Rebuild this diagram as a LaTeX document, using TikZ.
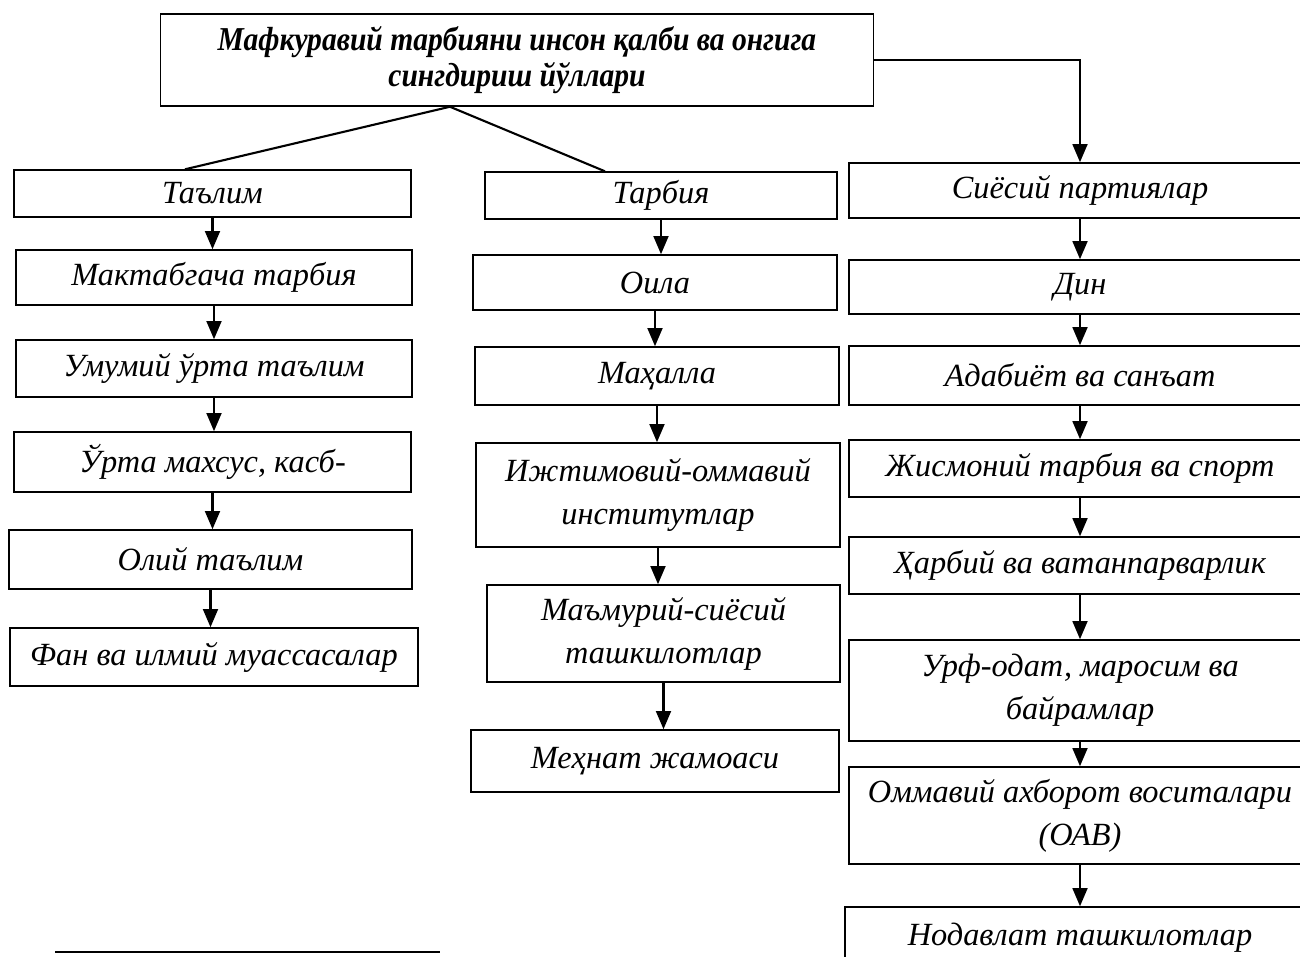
\documentclass[tikz,border=0pt]{standalone}
\usepackage{fontspec}
\usepackage{graphicx}
\setmainfont{Liberation Serif}
\usetikzlibrary{arrows.meta}

\begin{document}
\begin{tikzpicture}[x=0.01cm,y=-0.01cm,
    blok/.style={draw, line width=0.4pt, inner sep=0pt, align=center,
      font=\itshape\fontsize{9.2}{12.2}\selectfont},
    bosh/.style={blok, font=\bfseries\itshape\fontsize{9.5}{10.2}\selectfont},
    strel/.style={line width=0.75pt, -{Triangle[length=5.2pt,width=4.2pt]}},
    chiziq/.style={line width=0.6pt}]
    \useasboundingbox (0,0) rectangle (1300,956);
                    % yuqori blok
                    \node[bosh, minimum width=7.12cm, minimum height=0.92cm] (top) at (517,60) {\scalebox{0.885}[1]{Мафкуравий тарбияни инсон қалби ва онгига}\\ \scalebox{0.885}[1]{сингдириш йўллари}};
                    % chap ustun
                    \node[blok, minimum width=3.97cm, minimum height=0.47cm] (talim) at (212.5,193.5) {Таълим};
                    \node[blok, minimum width=3.96cm, minimum height=0.55cm] (maktab) at (214,277.5) {Мактабгача тарбия};
                    \node[blok, minimum width=3.96cm, minimum height=0.57cm] (umumiy) at (214,368.5) {Умумий ўрта таълим};
                    \node[blok, minimum width=3.97cm, minimum height=0.60cm] (orta) at (212.5,462) {Ўрта махсус, касб-};
                    \node[blok, minimum width=4.03cm, minimum height=0.59cm] (oliy) at (210.5,559.5) {Олий таълим};
                    \node[blok, minimum width=4.08cm, minimum height=0.58cm] (fan) at (214,657) {Фан ва илмий муассасалар};
                    % orta ustun
                    \node[blok, minimum width=3.52cm, minimum height=0.47cm] (tarbiya) at (661,195.5) {Тарбия};
                    \node[blok, minimum width=3.64cm, minimum height=0.55cm] (oila) at (655,282.5) {Оила};
                    \node[blok, minimum width=3.64cm, minimum height=0.58cm] (mahalla) at (657,376) {Маҳалла};
                    \node[blok, minimum width=3.64cm, minimum height=1.04cm] (ijtimoiy) at (658,495) {Ижтимовий-оммавий\\ институтлар};
                    \node[blok, minimum width=3.53cm, minimum height=0.97cm] (mamuriy) at (663.5,633.5) {Маъмурий-сиёсий\\ ташкилотлар};
                    \node[blok, minimum width=3.68cm, minimum height=0.62cm] (mehnat) at (655,761) {Меҳнат жамоаси};
                    % ong ustun
                    \node[blok, minimum width=4.62cm, minimum height=0.55cm] (siyosiy) at (1080,190.5) {Сиёсий партиялар};
                    \node[blok, minimum width=4.62cm, minimum height=0.54cm] (din) at (1080,287) {Дин};
                    \node[blok, minimum width=4.62cm, minimum height=0.59cm] (adabiyot) at (1080,375.5) {Адабиёт ва санъат};
                    \node[blok, minimum width=4.62cm, minimum height=0.57cm] (jismoniy) at (1080,468.5) {Жисмоний тарбия ва спорт};
                    \node[blok, minimum width=4.62cm, minimum height=0.57cm] (harbiy) at (1080,565.5) {Ҳарбий ва ватанпарварлик};
                    \node[blok, minimum width=4.62cm, minimum height=1.01cm] (urf) at (1080,690.5) {Урф-одат, маросим ва\\ байрамлар};
                    \node[blok, minimum width=4.62cm, minimum height=0.97cm] (oav) at (1080,815.5) {Оммавий ахборот воситалари\\ (ОАВ)};
                    \node[blok, minimum width=4.70cm, minimum height=0.62cm] (nodavlat) at (1080,938) {Нодавлат ташкилотлар};
                    % bog'lovchi chiziqlar
                    \draw[chiziq] ([xshift=-0.67cm]top.south) -- ([xshift=-0.275cm]talim.north);
                    \draw[chiziq] ([xshift=-0.67cm]top.south) -- ([xshift=-0.56cm]tarbiya.north);
                    \draw[strel] (top.east) -- (top.east -| siyosiy.north) -- (siyosiy.north);
                    \foreach \a/\b in {talim/maktab, maktab/umumiy, umumiy/orta, orta/oliy, oliy/fan,
                        tarbiya/oila, oila/mahalla, mahalla/ijtimoiy, ijtimoiy/mamuriy, mamuriy/mehnat,
                        siyosiy/din, din/adabiyot, adabiyot/jismoniy, jismoniy/harbiy, harbiy/urf, urf/oav, oav/nodavlat}
                        \draw[strel] (\a.south) -- (\a.south |- \b.north);
                    % izoh chizig'i
                    \draw[chiziq] (55,952) -- (440,952);
                    \end{tikzpicture}
\end{document}
